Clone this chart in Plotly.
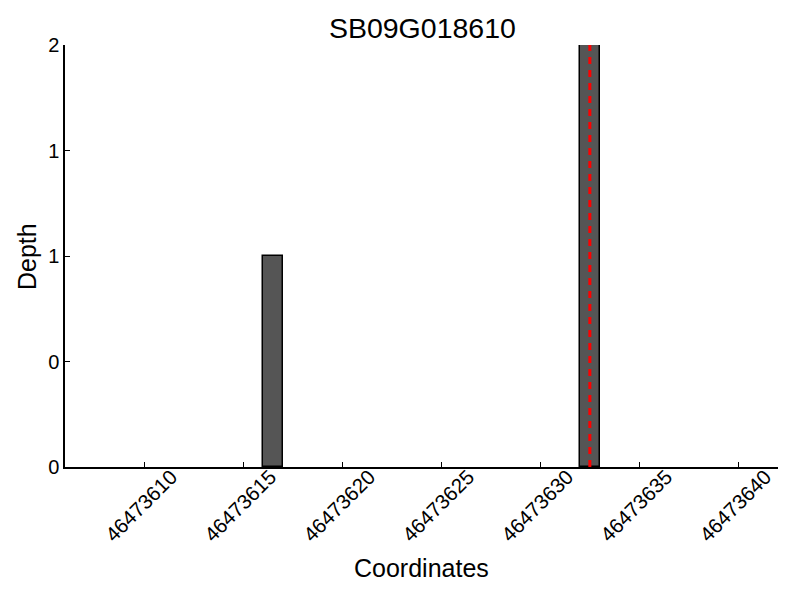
import plotly.graph_objects as go

title = "SB09G018610"
positions = [46473616, 46473632]
depths = [1, 2]
snp_position = 46473632.5
x_tickvals = [46473610, 46473615, 46473620, 46473625, 46473630, 46473635, 46473640]
y_tickvals = [0, 0.5, 1, 1.5, 2]
y_ticktext = ["0", "0", "1", "1", "2"]
x_range = [46473606, 46473642]

fig = go.Figure()
fig.add_trace(go.Bar(
    x=positions, y=depths, offset=0, width=1,
    marker=dict(color="#555555", line=dict(color="black", width=1.5)),
    showlegend=False,
))
fig.add_shape(type="line", xref="x", yref="y", x0=snp_position, x1=snp_position,
              y0=0, y1=2, line=dict(color="red", width=3, dash="7px,6px"))

font_family = "Liberation Sans, Arial, sans-serif"
fig.update_layout(
    width=800, height=600,
    plot_bgcolor="white", paper_bgcolor="white",
    margin=dict(l=57, r=30, t=37, b=141, autoexpand=False),
    title=dict(text=title, x=0.518, xanchor="center", y=0.967, yanchor="middle",
               font=dict(family=font_family, size=28.5, color="black")),
    font=dict(family=font_family, color="black"),
    bargap=0,
    annotations=[
        dict(text="Coordinates", xref="paper", yref="paper", x=0.5, y=-0.239,
             xanchor="center", yanchor="middle", showarrow=False,
             font=dict(size=25, family=font_family, color="black")),
        dict(text="Depth", xref="paper", yref="paper", x=-0.0533, y=0.5,
             xanchor="center", yanchor="middle", showarrow=False, textangle=-90,
             font=dict(size=25, family=font_family, color="black")),
    ],
    xaxis=dict(
        range=x_range, tickvals=x_tickvals,
        ticktext=[str(v) for v in x_tickvals],
        tickangle=-45, ticks="", showline=False,
        anchor="free", position=0.0166,
        showgrid=False, zeroline=False, automargin=False,
        ticklabelshift=27,
        tickfont=dict(size=20.5, family=font_family),
    ),
    xaxis2=dict(
        range=x_range, tickvals=x_tickvals, overlaying="x", matches="x",
        anchor="y", side="bottom", showticklabels=False,
        ticks="inside", ticklen=5, tickcolor="black",
        showline=True, linecolor="black", linewidth=1.5,
        showgrid=False, zeroline=False, automargin=False,
    ),
    yaxis=dict(
        range=[0, 2], tickvals=y_tickvals, ticktext=y_ticktext,
        ticks="inside", ticklen=5, tickcolor="black",
        showline=True, linecolor="black", linewidth=1.5,
        showgrid=False, zeroline=False, automargin=False,
        tickfont=dict(size=20, family=font_family),
    ),
)
# invisible helper trace so the tick-drawing axis is rendered
fig.add_trace(go.Scatter(x=[x_range[0]], y=[0], xaxis="x2", yaxis="y",
                         mode="markers", marker=dict(opacity=0),
                         showlegend=False, hoverinfo="skip"))
fig.write_html("out.html")
